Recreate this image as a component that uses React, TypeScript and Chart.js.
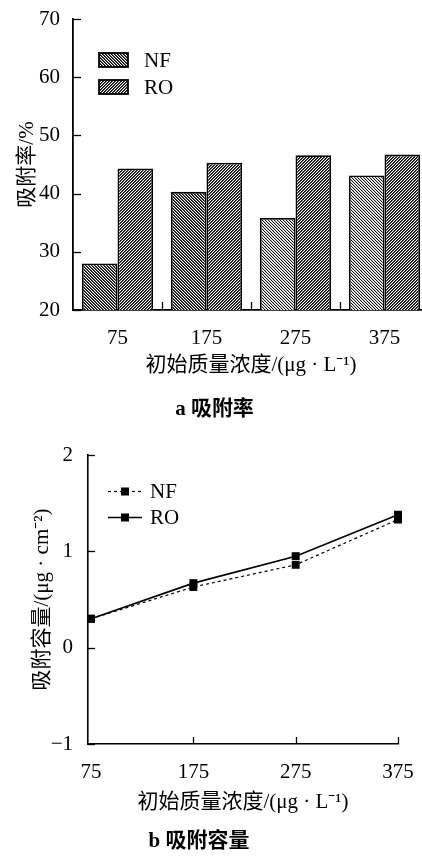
import { useEffect, useRef } from 'react';
import { Chart, registerables } from 'chart.js';

Chart.register(...registerables);

// (a) adsorption rate, %
const categories = ['75', '175', '275', '375'];
const rateNF = [28.0, 40.3, 35.8, 43.1];
const rateRO = [44.3, 45.3, 46.6, 46.7];
const rateMin = 20;
const rateMax = 70;
const rateStep = 10;

// (b) adsorption capacity, μg·cm⁻²
const concX = [75, 175, 275, 375];
const capNF = [0.30, 0.63, 0.86, 1.33];
const capRO = [0.30, 0.67, 0.95, 1.38];
const capMin = -1;
const capMax = 2;
const capStep = 1;

const seriesNames = ['NF', 'RO'];
const xTitle = '初始质量浓度/(μg · L⁻¹)';
const rateTitle = '吸附率/%';
const capTitle = '吸附容量/(μg · cm⁻²)';
const captionA = 'a 吸附率';
const captionB = 'b 吸附容量';

const FAMILY = '"Liberation Serif", "Times New Roman", "Noto Sans CJK SC", serif';
const font = (size: number, weight: any = 'normal') => ({ family: FAMILY, size, weight, lineHeight: 1.2 });

// 3x3 diagonal hatch tile; shades indexed by distance from the stripe
function hatch(dir: 'fwd' | 'back', shades: number[]): CanvasPattern {
  const c = document.createElement('canvas');
  c.width = 3;
  c.height = 3;
  const g = c.getContext('2d')!;
  const img = g.createImageData(3, 3);
  for (let y = 0; y < 3; y++) {
    for (let x = 0; x < 3; x++) {
      const k = dir === 'fwd' ? (x + y) % 3 : (x - y + 3) % 3;
      const v = shades[k];
      const i = (y * 3 + x) * 4;
      img.data[i] = v;
      img.data[i + 1] = v;
      img.data[i + 2] = v;
      img.data[i + 3] = 255;
    }
  }
  g.putImageData(img, 0, 0);
  return g.createPattern(c, 'repeat')!;
}

function stroke(ctx: CanvasRenderingContext2D, x1: number, y1: number, x2: number, y2: number) {
  ctx.beginPath();
  ctx.moveTo(x1, y1);
  ctx.lineTo(x2, y2);
  ctx.stroke();
}

// tick marks drawn on the inner side of both axes
function inwardTicks(xMarks: (chart: any) => number[], len: number) {
  return {
    id: 'inwardTicks',
    afterDraw(chart: any) {
      const { ctx, chartArea, scales } = chart;
      ctx.save();
      ctx.strokeStyle = '#000';
      ctx.lineWidth = 1.3;
      scales.y.ticks.forEach((t: any) => {
        const py = Math.round(scales.y.getPixelForValue(t.value)) + 0.5;
        stroke(ctx, chartArea.left, py, chartArea.left + len, py);
      });
      xMarks(chart).forEach((px) => {
        const x = Math.round(px) + 0.5;
        stroke(ctx, x, chartArea.bottom, x, chartArea.bottom - len);
      });
      ctx.restore();
    },
  };
}

function barLegend(dx: number, dy: number) {
  return {
    id: 'barLegend',
    afterDraw(chart: any) {
      const { ctx, chartArea } = chart;
      ctx.save();
      chart.data.datasets.forEach((ds: any, i: number) => {
        const x = chartArea.left + dx;
        const y = chartArea.top + dy + i * 27;
        const bg = Array.isArray(ds.backgroundColor) ? ds.backgroundColor[0] : ds.backgroundColor;
        ctx.fillStyle = bg;
        ctx.fillRect(x, y, 29, 14);
        ctx.strokeStyle = '#000';
        ctx.lineWidth = 1.8;
        ctx.strokeRect(x, y, 29, 14);
        ctx.fillStyle = '#000';
        ctx.font = `21px ${FAMILY}`;
        ctx.textBaseline = 'middle';
        ctx.textAlign = 'left';
        ctx.fillText(ds.label, x + 45, y + 8);
      });
      ctx.restore();
    },
  };
}

function lineLegend(dx: number, dy: number) {
  return {
    id: 'lineLegend',
    afterDraw(chart: any) {
      const { ctx, chartArea } = chart;
      ctx.save();
      chart.data.datasets.forEach((ds: any, i: number) => {
        const x = chartArea.left + dx;
        const y = Math.round(chartArea.top + dy + i * 26) + 0.5;
        ctx.strokeStyle = '#000';
        ctx.lineWidth = ds.borderWidth;
        ctx.setLineDash(ds.borderDash || []);
        stroke(ctx, x, y, x + 34, y);
        ctx.setLineDash([]);
        ctx.fillStyle = '#000';
        ctx.fillRect(x + 13, y - 4, 8, 8);
        ctx.font = `21px ${FAMILY}`;
        ctx.textBaseline = 'middle';
        ctx.textAlign = 'left';
        ctx.fillText(ds.label, x + 42, y + 1);
      });
      ctx.restore();
    },
  };
}

export default function App() {
  const topRef = useRef<HTMLCanvasElement | null>(null);
  const botRef = useRef<HTMLCanvasElement | null>(null);

  useEffect(() => {
    const nfDark = hatch('back', [0, 80, 255]);
    const nfLight = hatch('back', [20, 200, 255]);
    const roPat = hatch('fwd', [0, 80, 255]);

    const axisText = { color: '#000', font: font(21) };

    const top = new Chart(topRef.current!, {
      type: 'bar',
      data: {
        labels: categories,
        datasets: [
          {
            label: seriesNames[0],
            data: rateNF,
            backgroundColor: [nfDark, nfDark, nfLight, nfLight],
            borderColor: '#000',
            borderWidth: 1.8,
            categoryPercentage: 0.8,
            barPercentage: 1,
          },
          {
            label: seriesNames[1],
            data: rateRO,
            backgroundColor: roPat,
            borderColor: '#000',
            borderWidth: 1.8,
            categoryPercentage: 0.8,
            barPercentage: 1,
          },
        ],
      },
      options: {
        responsive: false,
        animation: false,
        layout: { padding: { top: 19, right: 11, left: 0, bottom: 0 } },
        plugins: {
          legend: { display: false },
          tooltip: { enabled: false },
          title: {
            display: true,
            position: 'bottom',
            text: captionA,
            color: '#000',
            font: font(21, 'bold'),
            padding: { top: 0, bottom: 7.4 },
          },
        },
        scales: {
          x: {
            grid: { display: false },
            border: { color: '#000', width: 1.8 },
            ticks: { ...axisText, padding: 7.4, maxRotation: 0 },
            title: { display: true, text: xTitle, ...axisText, padding: { top: 0, bottom: 19.8 } },
            afterFit: (s: any) => {
              s.height = 87.4;
            },
          },
          y: {
            min: rateMin,
            max: rateMax,
            grid: { display: false },
            border: { color: '#000', width: 1.8 },
            ticks: { ...axisText, stepSize: rateStep, padding: 5 },
            title: { display: true, text: rateTitle, ...axisText, padding: { top: 14.4, bottom: 0 } },
            afterFit: (s: any) => {
              s.width = 73;
            },
          },
        },
      },
      plugins: [
        inwardTicks((chart: any) => {
          const xs = chart.scales.x;
          const out: number[] = [];
          for (let i = 1; i < categories.length; i++) {
            out.push((xs.getPixelForValue(i - 1) + xs.getPixelForValue(i)) / 2);
          }
          return out;
        }, 8),
        barLegend(26, 34),
      ],
    } as any);

    const bot = new Chart(botRef.current!, {
      type: 'line',
      data: {
        datasets: [
          {
            label: seriesNames[0],
            data: concX.map((x, i) => ({ x, y: capNF[i] })),
            borderColor: '#000',
            borderWidth: 1.2,
            borderDash: [3, 3],
            pointStyle: 'rect',
            pointRadius: 5.6,
            pointBackgroundColor: '#000',
            pointBorderWidth: 0,
            clip: false,
          },
          {
            label: seriesNames[1],
            data: concX.map((x, i) => ({ x, y: capRO[i] })),
            borderColor: '#000',
            borderWidth: 1.6,
            pointStyle: 'rect',
            pointRadius: 5.6,
            pointBackgroundColor: '#000',
            pointBorderWidth: 0,
            clip: false,
          },
        ],
      },
      options: {
        responsive: false,
        animation: false,
        layout: { padding: { top: 25, right: 42, left: 0, bottom: 0 } },
        plugins: {
          legend: { display: false },
          tooltip: { enabled: false },
          title: {
            display: true,
            position: 'bottom',
            text: captionB,
            color: '#000',
            font: font(21, 'bold'),
            padding: { top: 0, bottom: 4.4 },
          },
        },
        scales: {
          x: {
            type: 'linear',
            min: 72,
            max: 375,
            grid: { display: false },
            border: { color: '#000', width: 1.6 },
            afterBuildTicks: (s: any) => {
              s.ticks = concX.map((v) => ({ value: v }));
            },
            ticks: { ...axisText, padding: 7.4, maxRotation: 0, callback: (v: any) => String(v) },
            title: { display: true, text: xTitle, ...axisText, padding: { top: 0, bottom: 14.8 } },
            afterFit: (s: any) => {
              s.height = 85.4;
            },
          },
          y: {
            min: capMin,
            max: capMax,
            grid: { display: false },
            border: { color: '#000', width: 1.6 },
            ticks: {
              ...axisText,
              stepSize: capStep,
              padding: 7,
              callback: (v: any) => (v < 0 ? '\u2212' + Math.abs(v) : String(v)),
            },
            title: { display: true, text: capTitle, ...axisText, padding: { top: 29.4, bottom: 0 } },
            afterFit: (s: any) => {
              s.width = 88;
            },
          },
        },
      },
      plugins: [
        inwardTicks((chart: any) => {
          const xs = chart.scales.x;
          return concX.slice(1).map((v) => xs.getPixelForValue(v));
        }, 7),
        lineLegend(20, 36),
      ],
    } as any);

    return () => {
      top.destroy();
      bot.destroy();
    };
  }, []);

  return (
    <div
      style={{
        position: 'fixed',
        left: 0,
        top: 0,
        width: 422,
        height: 859,
        overflow: 'hidden',
        background: '#fff',
      }}
    >
      <canvas ref={topRef} width={440} height={430} style={{ position: 'absolute', left: 0, top: 0 }} />
      <canvas ref={botRef} width={440} height={429} style={{ position: 'absolute', left: 0, top: 430 }} />
    </div>
  );
}
